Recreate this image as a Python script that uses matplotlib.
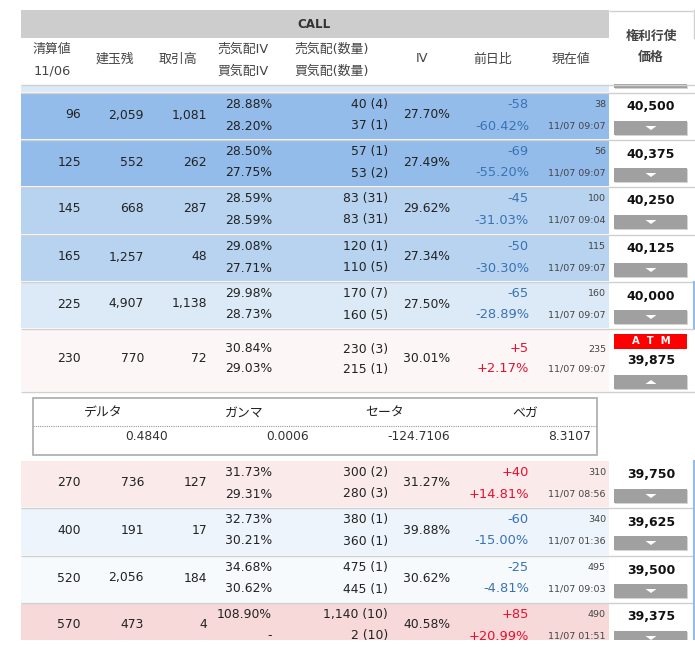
import matplotlib
matplotlib.use("Agg")
import matplotlib.pyplot as plt
from matplotlib.patches import Rectangle, Polygon

plt.rcParams["font.family"] = ["DejaVu Sans", "Noto Sans CJK JP"]

# === Table contents ===
settle = ["96", "125", "145", "165", "225", "230", "270", "400", "520", "570"]
open_int = ["2,059", "552", "668", "1,257", "4,907", "770", "736", "191", "2,056", "473"]
volume = ["1,081", "262", "287", "48", "1,138", "72", "127", "17", "184", "4"]
ask_iv = ["28.88%", "28.50%", "28.59%", "29.08%", "29.98%", "30.84%", "31.73%", "32.73%", "34.68%", "108.90%"]
bid_iv = ["28.20%", "27.75%", "28.59%", "27.71%", "28.73%", "29.03%", "29.31%", "30.21%", "30.62%", "-"]
ask_qty = ["40 (4)", "57 (1)", "83 (31)", "120 (1)", "170 (7)", "230 (3)", "300 (2)", "380 (1)", "475 (1)", "1,140 (10)"]
bid_qty = ["37 (1)", "53 (2)", "83 (31)", "110 (5)", "160 (5)", "215 (1)", "280 (3)", "360 (1)", "445 (1)", "2 (10)"]
iv = ["27.70%", "27.49%", "29.62%", "27.34%", "27.50%", "30.01%", "31.27%", "39.88%", "30.62%", "40.58%"]
change = ["-58", "-69", "-45", "-50", "-65", "+5", "+40", "-60", "-25", "+85"]
change_pct = ["-60.42%", "-55.20%", "-31.03%", "-30.30%", "-28.89%", "+2.17%", "+14.81%", "-15.00%", "-4.81%", "+20.99%"]
last = ["38", "56", "100", "115", "160", "235", "310", "340", "495", "490"]
last_time = ["11/07 09:07", "11/07 09:07", "11/07 09:04", "11/07 09:07", "11/07 09:07",
             "11/07 09:07", "11/07 08:56", "11/07 01:36", "11/07 09:03", "11/07 01:51"]
strike = ["40,500", "40,375", "40,250", "40,125", "40,000", "39,875", "39,750", "39,625", "39,500", "39,375"]

greek_names = ["デルタ", "ガンマ", "セータ", "ベガ"]
greek_values = ["0.4840", "0.0006", "-124.7106", "8.3107"]

# === Layout (pixels) ===
row_tops = [93, 140, 187, 235, 282, 329, 461, 508, 556, 603]
row_bottoms = [139, 186, 234, 281, 328, 391, 507, 555, 602, 650]
row_colors = ["#94bcea", "#94bcea", "#b7d3f0", "#b7d3f0", "#dce9f6",
              "#fdf6f6", "#faeaea", "#edf4fc", "#f6fafd", "#f7d9d9"]
ATM_ROW = 5

TEXT = "#222222"
HEAD = "#444444"
BLUE = "#3a73b5"
RED = "#e8102f"
LINE = "#d0d0d0"
BTN = "#a0a0a0"
SIZE = 8.9

fig = plt.figure(figsize=(6.95, 6.55), dpi=100)
ax = fig.add_axes([0, 0, 1, 1])
ax.set_xlim(0, 695)
ax.set_ylim(655, 0)
ax.axis("off")


def rect(x0, y0, x1, y1, color, z=1, **kw):
    ax.add_patch(Rectangle((x0, y0), x1 - x0, y1 - y0, facecolor=color, edgecolor="none", zorder=z, **kw))


def hline(y, x0=21, x1=695, color=LINE, lw=1.0, **kw):
    ax.plot([x0, x1], [y, y], color=color, lw=lw, zorder=3, solid_capstyle="butt", **kw)


def label(x, y, s, ha="right", size=SIZE, color=TEXT, **kw):
    ax.text(x, y, s, ha=ha, va="center", fontsize=size, color=color, zorder=5, **kw)


def button(top, up=False):
    rect(615, top + 1, 688, top + 15, "#d4d4d4", z=2)
    rect(614, top, 687, top + 14, BTN, z=3)
    mid = top + 7
    if up:
        pts = [(645.5, mid + 2), (656.5, mid + 2), (651, mid - 2)]
    else:
        pts = [(645.5, mid - 2), (656.5, mid - 2), (651, mid + 2)]
    ax.add_patch(Polygon(pts, closed=True, facecolor="white", edgecolor="none", zorder=4))


# === Header ===
rect(21, 10, 609, 38, "#cdcdcd")
label(314, 24, "CALL", ha="center", color="#333333", fontweight="bold", size=8.6)
for x, s in [(115, "建玉残"), (178, "取引高"), (422, "IV"), (493, "前日比"), (571, "現在値")]:
    label(x, 59, s, ha="center", size=9.3, color=HEAD)
for x, top, bottom in [(52, "清算値", "11/06"), (243, "売気配IV", "買気配IV"), (332, "売気配(数量)", "買気配(数量)")]:
    label(x, 49, top, ha="center", size=9.3, color=HEAD)
    label(x, 71, bottom, ha="center", size=9.3, color=HEAD)
label(651, 36, "権利行使", ha="center", size=9.3, color=HEAD, fontweight="bold")
label(651, 57, "価格", ha="center", size=9.3, color=HEAD, fontweight="bold")
hline(10.5, 609, 693)
ax.plot([693.5, 693.5], [10, 38], color=LINE, lw=1, zorder=3)

# partly scrolled row above the first one
rect(21, 85, 609, 92, "#dce9f6")
rect(615, 85, 688, 89, "#d4d4d4", z=2)
rect(614, 84, 687, 88, BTN, z=3)
hline(84.5)
hline(92.5)

# === Rows ===
for i in range(len(settle)):
    top, bottom = row_tops[i], row_bottoms[i]
    rect(21, top, 609, bottom, row_colors[i])
    hline(bottom + 0.5)
    mid = top + 22 if i != ATM_ROW else 359
    up_line = top + 11.5 if i != ATM_ROW else 349
    low_line = top + 33 if i != ATM_ROW else 369
    label(81, mid, settle[i])
    label(144, mid, open_int[i])
    label(207, mid, volume[i])
    label(272, up_line, ask_iv[i])
    label(272, low_line, bid_iv[i])
    label(388, up_line, ask_qty[i])
    label(388, low_line, bid_qty[i])
    label(427, mid, iv[i], ha="center")
    chg_color = RED if change[i].startswith("+") else BLUE
    label(529, up_line, change[i], color=chg_color, size=9.4)
    label(529, low_line, change_pct[i], color=chg_color, size=9.4)
    label(606, up_line, last[i], size=6.8, color="#444444")
    label(606, low_line, last_time[i], size=6.8, color="#444444")
    if i == ATM_ROW:
        rect(614, 334, 687, 349, "#ff0000", z=3)
        label(651, 341.5, "A  T  M", ha="center", size=7.2, color="white", fontweight="bold")
        label(651, 361, strike[i], ha="center", size=9.0, color="#111111", fontweight="bold")
        button(375, up=True)
    else:
        label(651, top + 14, strike[i], ha="center", size=9.0, color="#111111", fontweight="bold")
        button(top + 28)
    if i >= 4 and i != ATM_ROW:
        ax.plot([693.5, 693.5], [top, bottom], color="#94bcea", lw=1.5, zorder=3)

# === Greeks box ===
ax.add_patch(Rectangle((32.5, 397.5), 564, 57, facecolor="white", edgecolor="#aaaaaa", lw=1.2, zorder=2))
hline(425.5, 33, 597, color="#999999", lw=0.8, linestyle=(0, (1, 1)))
greek_centers = [103, 244, 385, 525]
greek_rights = [168, 309, 450, 591]
for name, value, cx, rx in zip(greek_names, greek_values, greek_centers, greek_rights):
    label(cx, 413, name, ha="center", size=9.3)
    label(rx, 437, value, size=8.8, color="#333333")

# table is cut off at the bottom
rect(0, 640, 695, 655, "white", z=10)

fig.savefig("out.png", dpi=100)
